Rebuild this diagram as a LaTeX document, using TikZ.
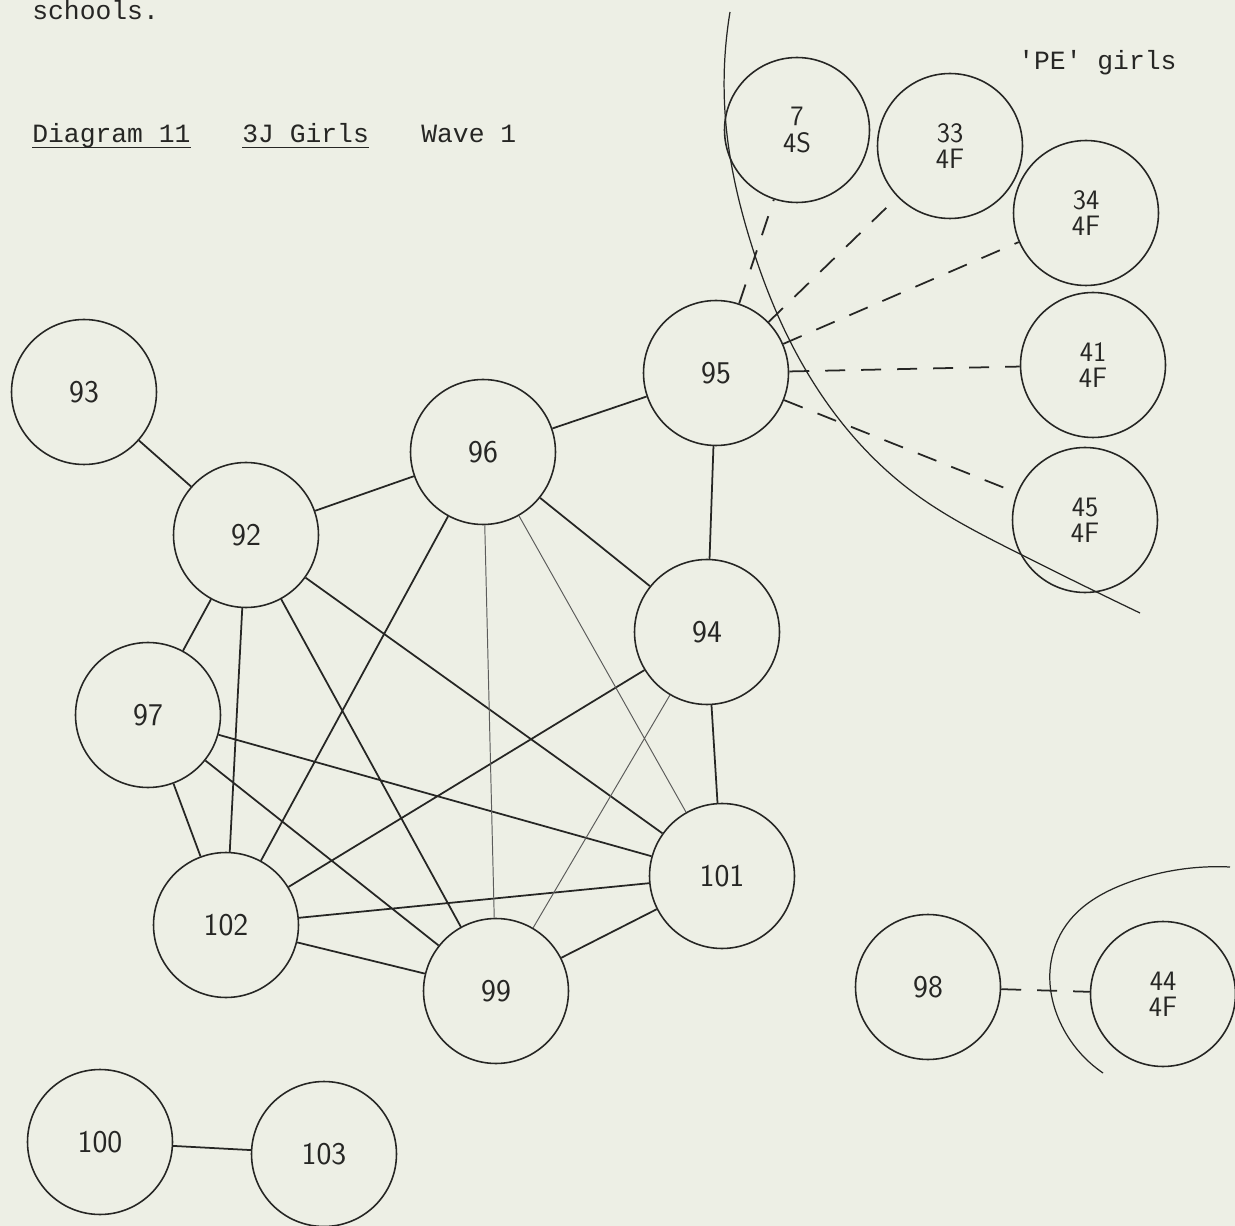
\documentclass[tikz,border=0pt]{standalone}
\usepackage{fontspec}
\setmonofont{Liberation Mono}
\usetikzlibrary{hobby}
\definecolor{paper}{RGB}{237,239,229}
\definecolor{ink}{RGB}{38,38,36}
\tikzset{pupil/.style={draw, circle, line width=0.9pt, minimum size=2.9cm, inner sep=0pt, align=center, font=\sffamily\fontsize{18}{18}\selectfont},
  pe pupil/.style={pupil, font=\sffamily\fontsize{16}{15}\selectfont},
  tie/.style={line width=1pt}, weak tie/.style={line width=0.55pt, ink!75},
  pe tie/.style={line width=1pt, dash pattern=on 0.4cm off 0.32cm},
  boundary/.style={line width=0.7pt},
  typed/.style={anchor=base west, inner sep=0pt, font=\ttfamily\fontsize{15}{18}\selectfont},
  underlined/.style={line width=1.1pt}}

\begin{document}
\begin{tikzpicture}[x=0.02cm, y=-0.02cm, color=ink]
  \useasboundingbox (0,0) rectangle (1235,1226);
  \fill[paper] (0,0) rectangle (1235,1226);
  % heading
  \node[typed] (prev) at (32,20) {schools.};
  \node[typed] (title) at (32,143) {Diagram 11};
  \node[typed] (form) at (242,143) {3J Girls};
  \node[typed] (wave) at (421,143) {Wave 1};
  \node[typed] (pe) at (1018,70) {'PE' girls};
  \draw[underlined] ([yshift=-0.09cm]title.base west) -- ([yshift=-0.09cm]title.base east);
  \draw[underlined] ([yshift=-0.09cm]form.base west) -- ([yshift=-0.09cm]form.base east);
  % 3J girls
  \node[pupil] (n93) at (84,392) {93};
  \node[pupil] (n92) at (246,535) {92};
  \node[pupil] (n96) at (483,452) {96};
  \node[pupil] (n95) at (716,373) {95};
  \node[pupil] (n94) at (707,632) {94};
  \node[pupil] (n97) at (148,715) {97};
  \node[pupil] (n101) at (722,876) {101};
  \node[pupil] (n102) at (226,925) {102};
  \node[pupil] (n99) at (496,991) {99};
  \node[pupil] (n98) at (928,987) {98};
  \node[pupil] (n100) at (100,1142) {100};
  \node[pupil] (n103) at (324,1154) {103};
  % PE girls
  \node[pe pupil] (n7) at (797,130) {7\\4S};
  \node[pe pupil] (n33) at (950,146) {33\\4F};
  \node[pe pupil] (n34) at (1086,213) {34\\4F};
  \node[pe pupil] (n41) at (1093,365) {41\\4F};
  \node[pe pupil] (n45) at (1085,520) {45\\4F};
  \node[pe pupil] (n44) at (1163,994) {44\\4F};
  % choices inside the form
  \draw[tie] (n93) -- (n92) (n92) -- (n96) (n96) -- (n95) (n95) -- (n94)
    (n96) -- (n94) (n94) -- (n101) (n92) -- (n97) (n92) -- (n102)
    (n92) -- (n101) (n92) -- (n99) (n96) -- (n102) (n97) -- (n102)
    (n97) -- (n101) (n97) -- (n99) (n102) -- (n101) (n102) -- (n99)
    (n99) -- (n101) (n94) -- (n102) (n100) -- (n103);
  \draw[weak tie] (n96) -- (n99) (n96) -- (n101) (n94) -- (n99);
  % choices out to the PE girls
  \draw[pe tie] (n95) -- (n7) (n95) -- (n33) (n95) -- (n34)
    (n95) -- (n41) (n95) -- (n45) (n98) -- (n44);
  % boundaries
  \draw[boundary, use Hobby shortcut] (730,12) .. (726,125) .. (750,240)
    .. (793,347) .. (842,423) .. (914,493) .. (1012,550) .. (1140,613);
  \draw[boundary, use Hobby shortcut] (1230,867) .. (1127,883) .. (1070,920)
    .. (1051,962) .. (1060,1022) .. (1103,1073);
\end{tikzpicture}
\end{document}
